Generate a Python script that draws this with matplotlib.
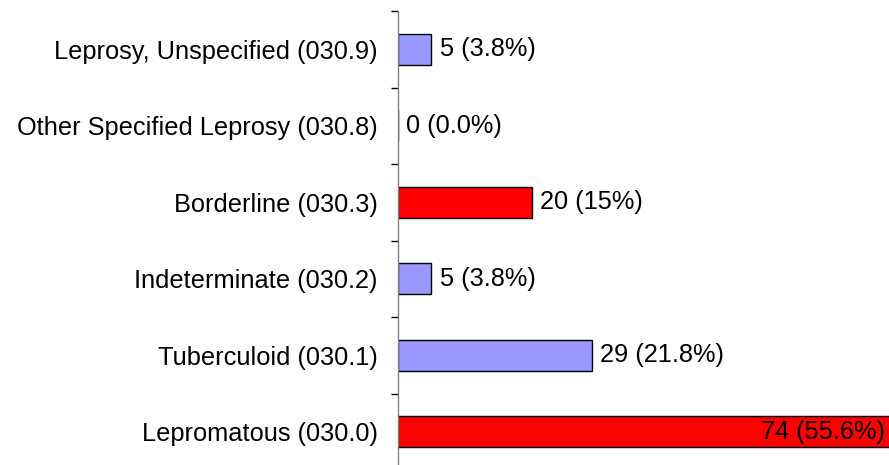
import matplotlib
matplotlib.use("Agg")
import matplotlib.pyplot as plt
import numpy as np

categories = [
    "Lepromatous (030.0)",
    "Tuberculoid (030.1)",
    "Indeterminate (030.2)",
    "Borderline (030.3)",
    "Other Specified Leprosy (030.8)",
    "Leprosy, Unspecified (030.9)",
]
counts = [74, 29, 5, 20, 0, 5]
percents = ["55.6%", "21.8%", "3.8%", "15%", "0.0%", "3.8%"]
bar_colors = ["#FF0000", "#9999FF", "#9999FF", "#FF0000", "#9999FF", "#9999FF"]

plt.rcParams["font.family"] = ["Liberation Sans", "DejaVu Sans"]
FS = 18.3

W, H = 889, 465
fig = plt.figure(figsize=(W / 100, H / 100), dpi=100)
ax = fig.add_axes([398 / W, -5 / H, (W - 398) / W, 459 / H])

y = np.arange(len(categories))
bars = ax.barh(y, counts, height=0.4, color=bar_colors, edgecolor="black",
               linewidth=1.0)

xmax = 73.5
ax.set_xlim(0, xmax)
ax.set_ylim(-0.5, len(categories) - 0.5)

for yi, c, p in zip(y, counts, percents):
    label = f"{c} ({p})"
    if c > xmax * 0.8:
        ax.annotate(label, (xmax, yi), xytext=(-3, 0), textcoords="offset points",
                    ha="right", va="center", fontsize=FS)
    else:
        ax.annotate(label, (c, yi), xytext=(6, 0), textcoords="offset points",
                    ha="left", va="center", fontsize=FS)

ax.set_yticks(y)
ax.set_yticklabels(categories, fontsize=FS)
ax.tick_params(axis="y", which="major", length=0, pad=14.4)
ax.set_yticks(np.arange(-0.5, len(categories), 1.0), minor=True)
ax.tick_params(axis="y", which="minor", length=5, width=1, color="black",
               direction="out")
ax.set_xticks([])

for s in ["top", "right", "bottom"]:
    ax.spines[s].set_visible(False)
ax.spines["left"].set_color("#808080")
ax.spines["left"].set_linewidth(1.0)

fig.savefig("out.png", dpi=100)
